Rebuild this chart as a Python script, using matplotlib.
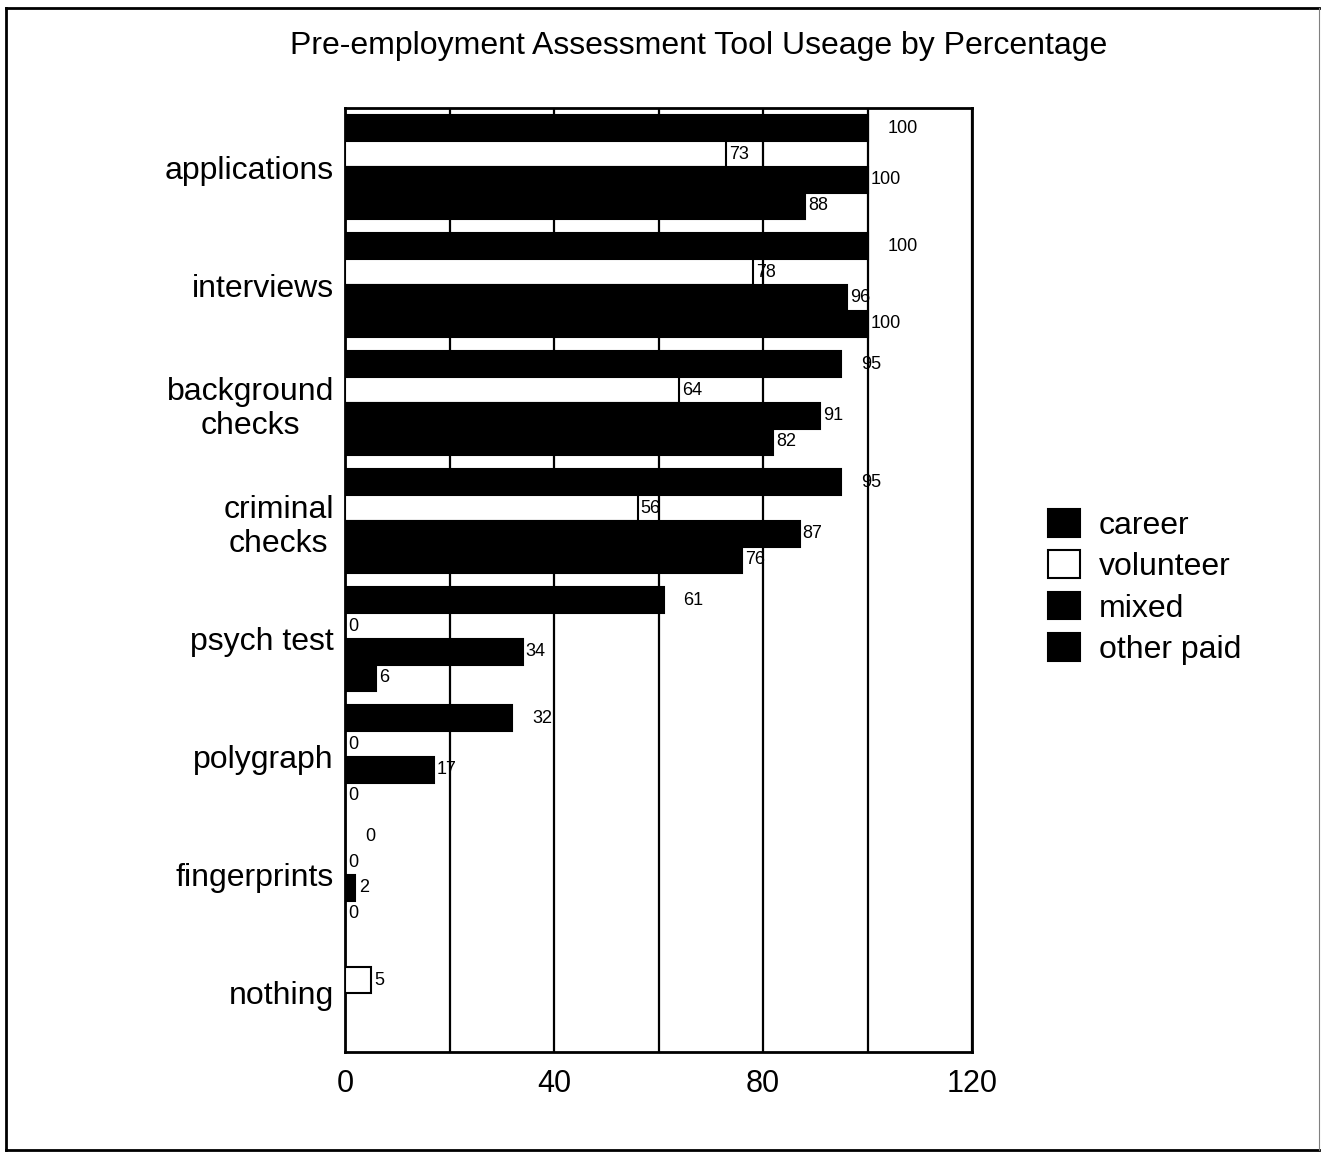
import matplotlib
matplotlib.use('Agg')
import matplotlib.pyplot as plt
from matplotlib.patches import Patch
from matplotlib.lines import Line2D
import numpy as np

plt.rcParams['font.family'] = ['Liberation Sans', 'DejaVu Sans']

# 도구별 사용 비율 (%)
categories = ['applications', 'interviews', 'background\nchecks', 'criminal\nchecks',
              'psych test', 'polygraph', 'fingerprints', 'nothing']
series_names = ['career', 'volunteer', 'mixed', 'other paid']
career = [100, 100, 95, 95, 61, 32, 0, None]
volunteer = [73, 78, 64, 56, 0, 0, 0, 5]
mixed = [100, 96, 91, 87, 34, 17, 2, None]
other_paid = [88, 100, 82, 76, 6, 0, 0, None]

series = [career, volunteer, mixed, other_paid]
faces = ['black', 'white', 'black', 'black']
label_gap = [3.8, 0.6, 0.6, 0.6]  # 값 라벨을 막대 끝에서 얼마나 띄울지

fig = plt.figure(figsize=(13.21, 11.54), dpi=100)
ax = fig.add_axes([0.2612, 0.0884, 0.4746, 0.818])

h = 0.22
y = np.arange(len(categories))
for k, (vals, fc) in enumerate(zip(series, faces)):
    pos = y + (k - 1.5) * h
    for yi, v in zip(pos, vals):
        if v is None:
            continue
        ax.barh(yi, v, height=h, color=fc, edgecolor='black', linewidth=1.5, zorder=3)
        ax.text(v + label_gap[k], yi, str(v), va='center', ha='left',
                fontsize=13, zorder=4)

ax.set_xlim(0, 120)
ax.set_ylim(len(categories) - 0.5, -0.5)
ax.set_xticks([0, 40, 80, 120])
ax.set_xticks([20, 60, 100], minor=True)
ax.grid(axis='x', which='both', color='black', linewidth=1.6)
ax.set_axisbelow(True)
ax.set_yticks(y)
ax.set_yticklabels(categories, multialignment='center')
ax.tick_params(axis='y', length=0, pad=8, labelsize=23)
ax.tick_params(axis='x', which='both', length=0, pad=12, labelsize=22)
for s in ax.spines.values():
    s.set_linewidth(2)

fig.text(0.529, 0.960, 'Pre-employment Assessment Tool Useage by Percentage',
         ha='center', va='center', fontsize=23)

handles = [Patch(facecolor=fc, edgecolor='black', linewidth=1.5) for fc in faces]
fig.legend(handles, series_names, loc='center left',
           bbox_to_anchor=(1048 / 1321, 1 - 587 / 1154), frameon=False,
           fontsize=23, handlelength=1.0, handleheight=0.95, labelspacing=0.3,
           handletextpad=0.6, borderpad=0, borderaxespad=0)

# 바깥 테두리
fx = [6 / 1321, 1319 / 1321]
fy = [1 - 1150 / 1154, 1 - 8 / 1154]
fig.add_artist(Line2D([fx[0], fx[1]], [fy[1], fy[1]], color='black', linewidth=2))
fig.add_artist(Line2D([fx[0], fx[0]], [fy[0], fy[1]], color='black', linewidth=2))
fig.add_artist(Line2D([fx[0], fx[1]], [fy[0], fy[0]], color='black', linewidth=2))
fig.add_artist(Line2D([fx[1], fx[1]], [fy[0], fy[1]], color='gray', linewidth=0.8))

fig.savefig('out.png', dpi=100)
